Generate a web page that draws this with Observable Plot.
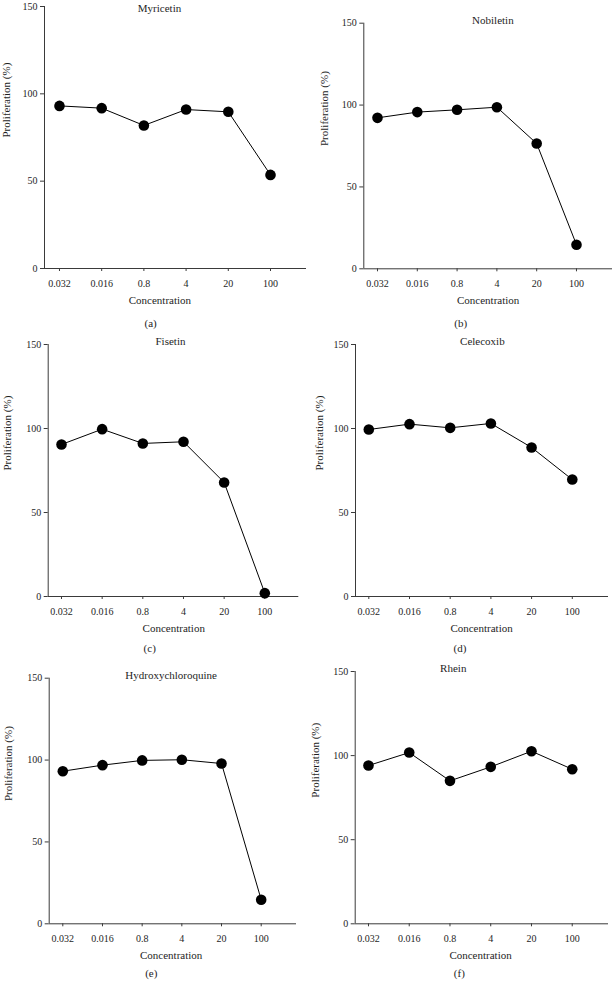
<!DOCTYPE html>
<html>
<head>
<meta charset="utf-8">
<script src="https://cdn.jsdelivr.net/npm/d3@7"></script>
<script src="https://cdn.jsdelivr.net/npm/@observablehq/plot@0.6"></script>
<style>
  html, body { margin: 0; padding: 0; background: #fff; }
  #wrap { position: relative; width: 612px; height: 981px; overflow: hidden; background: #fff; }
  #wrap > div { position: absolute; }
  #wrap svg { display: block; }
</style>
</head>
<body>
<div id="wrap"></div>
<script>
// ---- data ----
const concentrations = ["0.032", "0.016", "0.8", "4", "20", "100"];
const drugs = ["Myricetin", "Nobiletin", "Fisetin", "Celecoxib", "Hydroxychloroquine", "Rhein"];
const letters = ["(a)", "(b)", "(c)", "(d)", "(e)", "(f)"];
const yTicks = [0, 50, 100, 150];
const myricetin = [93.1, 91.8, 81.9, 91.0, 89.7, 53.6];
const nobiletin = [92.2, 95.7, 97.1, 98.7, 76.5, 14.7];
const fisetin = [90.5, 99.6, 91.1, 92.1, 67.9, 2.0];
const celecoxib = [99.4, 102.6, 100.4, 103.0, 88.7, 69.6];
const hydroxychloroquine = [93.2, 96.9, 99.8, 100.2, 97.9, 14.7];
const rhein = [94.1, 101.8, 85.0, 93.3, 102.6, 91.9];
const series = [myricetin, nobiletin, fisetin, celecoxib, hydroxychloroquine, rhein];

// ---- layout (positions / styles) ----
const layout = [
  {left: 0,   top: 0,   w: 306, h: 330, ml: 44,   mr: 0,   mt: 6,    mb: 62,   xlo: -0.355, xhi: 5.853, titleX: 2.37, titleDy: 1.5, labelX: 2.38, letterX: 2.16, letterDy: 54.7, yLabDx: -38},
  {left: 306, top: 0,   w: 306, h: 330, ml: 57.3, mr: 0,   mt: 22.7, mb: 61.7, xlo: -0.344, xhi: 5.905, titleX: 2.90, titleDy: -3, labelX: 2.78, letterX: 2.09, letterDy: 54.4, yLabDx: -39},
  {left: 0,   top: 330, w: 306, h: 330, ml: 47.7, mr: 7.7, mt: 14,   mb: 64,   xlo: -0.327, xhi: 5.836, titleX: 2.68, titleDy: -3, labelX: 2.76, letterX: 2.17, letterDy: 52.3, yLabDx: -40.4},
  {left: 306, top: 330, w: 306, h: 330, ml: 49,   mr: 4,   mt: 14,   mb: 64,   xlo: -0.327, xhi: 5.890, titleX: 2.79, titleDy: -3, labelX: 2.77, letterX: 2.24, letterDy: 52.3, yLabDx: -36.3},
  {left: 0,   top: 660, w: 306, h: 321, ml: 48.7, mr: 10,  mt: 17.7, mb: 57.7, xlo: -0.343, xhi: 5.890, titleX: 2.73, titleDy: -3, labelX: 2.73, letterX: 2.23, letterDy: 49.5, yLabDx: -40.4},
  {left: 306, top: 660, w: 306, h: 321, ml: 48.7, mr: 4,   mt: 11,   mb: 57.7, xlo: -0.326, xhi: 5.890, titleX: 2.08, titleDy: -3, labelX: 2.75, letterX: 2.23, letterDy: 49.5, yLabDx: -39.7}
];
const axisColor = "#3a3a3a";
const textColor = "#1e1e1e";
const font = "'Liberation Serif', 'DejaVu Serif', serif";

function panel(cfg, name, values, letter) {
  const data = values.map((v, i) => ({i, v}));
  return Plot.plot({
    width: cfg.w,
    height: cfg.h,
    marginLeft: cfg.ml,
    marginRight: cfg.mr,
    marginTop: cfg.mt,
    marginBottom: cfg.mb,
    style: {fontFamily: font, fontSize: "10px", color: textColor, background: "transparent", overflow: "visible"},
    x: {type: "linear", domain: [cfg.xlo, cfg.xhi]},
    y: {domain: [0, 150]},
    marks: [
      Plot.axisX({ticks: d3.range(concentrations.length), tickFormat: i => concentrations[i], tickSize: 3, tickPadding: 8.5, label: null, stroke: axisColor, fill: textColor, fontSize: 10}),
      Plot.axisY({ticks: yTicks, tickSize: 4, tickPadding: 3, label: null, stroke: axisColor, fill: textColor, fontSize: 10}),
      Plot.ruleY([0], {stroke: axisColor, strokeWidth: 1}),
      Plot.ruleX([cfg.xlo], {stroke: axisColor, strokeWidth: 1}),
      Plot.line(data, {x: "i", y: "v", stroke: "#000", strokeWidth: 1}),
      Plot.dot(data, {x: "i", y: "v", r: 5.3, fill: "#000", stroke: "none"}),
      Plot.text([name], {x: cfg.titleX, frameAnchor: "top", dy: cfg.titleDy, lineAnchor: "middle", fontSize: 11, fill: textColor}),
      Plot.text(["Proliferation (%)"], {frameAnchor: "left", rotate: -90, dx: cfg.yLabDx, lineAnchor: "middle", fontSize: 11, fill: textColor}),
      Plot.text(["Concentration"], {x: cfg.labelX, frameAnchor: "bottom", dy: 31.5, lineAnchor: "middle", fontSize: 11, fill: textColor}),
      Plot.text([letter], {x: cfg.letterX, frameAnchor: "bottom", dy: cfg.letterDy, lineAnchor: "middle", fontSize: 11, fill: textColor})
    ]
  });
}

const wrap = document.getElementById("wrap");
layout.forEach((cfg, k) => {
  const holder = document.createElement("div");
  holder.style.left = cfg.left + "px";
  holder.style.top = cfg.top + "px";
  holder.style.width = cfg.w + "px";
  holder.style.height = cfg.h + "px";
  holder.appendChild(panel(cfg, drugs[k], series[k], letters[k]));
  wrap.appendChild(holder);
});
</script>
</body>
</html>
